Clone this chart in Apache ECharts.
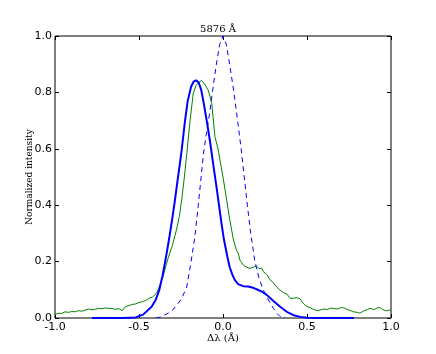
<!DOCTYPE html>
<html>
<head>
<meta charset="UTF-8">
<title>5876</title>
<script src="https://cdn.jsdelivr.net/npm/echarts@6/dist/echarts.min.js"></script>
</head>
<body style="margin:0;background:#fff;">
<div id="main" style="width:436px;height:354px;"></div>
<script type="text/javascript">
// blue solid profile
var blueX = [-0.78, -0.60, -0.52, -0.476, -0.425, -0.40, -0.379, -0.36, -0.339, -0.321, -0.30, -0.286, -0.27, -0.256, -0.246, -0.226, -0.21, -0.19, -0.175, -0.16, -0.145, -0.13, -0.117, -0.097, -0.077, -0.058, -0.04, -0.028, -0.01, 0.005, 0.026, 0.04, 0.055, 0.07, 0.09, 0.12, 0.15, 0.18, 0.20, 0.23, 0.26, 0.30, 0.34, 0.38, 0.42, 0.46, 0.50, 0.55, 0.78];
var blueY = [0, 0, 0.002, 0.012, 0.04, 0.065, 0.10, 0.15, 0.217, 0.28, 0.36, 0.418, 0.49, 0.55, 0.596, 0.70, 0.77, 0.82, 0.838, 0.843, 0.835, 0.81, 0.77, 0.70, 0.625, 0.545, 0.47, 0.418, 0.34, 0.28, 0.217, 0.18, 0.155, 0.135, 0.12, 0.113, 0.112, 0.107, 0.102, 0.094, 0.082, 0.06, 0.04, 0.022, 0.01, 0.004, 0.001, 0, 0];

// blue dashed profile
var dashX = [-0.40, -0.375, -0.335, -0.30, -0.276, -0.245, -0.216, -0.19, -0.167, -0.147, -0.117, -0.10, -0.081, -0.061, -0.042, -0.02, 0, 0.02, 0.042, 0.065, 0.087, 0.108, 0.145, 0.165, 0.19, 0.215, 0.24, 0.26, 0.30, 0.32, 0.34, 0.37];
var dashY = [0, 0.003, 0.014, 0.028, 0.045, 0.07, 0.11, 0.20, 0.29, 0.40, 0.58, 0.65, 0.72, 0.81, 0.89, 0.97, 1.0, 0.97, 0.89, 0.80, 0.70, 0.60, 0.40, 0.30, 0.20, 0.14, 0.10, 0.075, 0.034, 0.017, 0.005, 0];

// green observed profile
var greenX = [-1.00, -0.98, -0.96, -0.94, -0.92, -0.90, -0.88, -0.86, -0.84, -0.82, -0.80, -0.78, -0.76, -0.74, -0.72, -0.70, -0.68, -0.66, -0.64, -0.62, -0.60, -0.59, -0.58, -0.56, -0.54, -0.52, -0.50, -0.48, -0.46, -0.44, -0.42, -0.41, -0.395, -0.375, -0.355, -0.34, -0.325, -0.30, -0.276, -0.26, -0.246, -0.23, -0.216, -0.196, -0.177, -0.16, -0.14, -0.127, -0.11, -0.088, -0.075, -0.067, -0.048, -0.028, -0.018, 0.0, 0.022, 0.04, 0.061, 0.08, 0.091, 0.101, 0.121, 0.14, 0.161, 0.18, 0.20, 0.215, 0.23, 0.24, 0.26, 0.28, 0.30, 0.32, 0.339, 0.36, 0.38, 0.40, 0.42, 0.44, 0.458, 0.48, 0.50, 0.518, 0.54, 0.56, 0.577, 0.60, 0.62, 0.64, 0.657, 0.68, 0.70, 0.716, 0.74, 0.76, 0.776, 0.80, 0.815, 0.84, 0.86, 0.875, 0.90, 0.92, 0.934, 0.95, 0.974, 0.99, 1.0];
var greenY = [0.012, 0.017, 0.016, 0.022, 0.02, 0.023, 0.022, 0.026, 0.024, 0.028, 0.032, 0.029, 0.031, 0.034, 0.033, 0.036, 0.034, 0.034, 0.031, 0.033, 0.026, 0.03, 0.041, 0.044, 0.048, 0.05, 0.055, 0.058, 0.062, 0.07, 0.074, 0.08, 0.088, 0.117, 0.15, 0.185, 0.215, 0.26, 0.315, 0.36, 0.418, 0.50, 0.58, 0.70, 0.797, 0.825, 0.838, 0.842, 0.83, 0.808, 0.78, 0.761, 0.643, 0.596, 0.56, 0.50, 0.418, 0.35, 0.28, 0.24, 0.229, 0.205, 0.188, 0.18, 0.176, 0.18, 0.184, 0.175, 0.177, 0.164, 0.155, 0.135, 0.125, 0.11, 0.099, 0.09, 0.085, 0.07, 0.07, 0.072, 0.068, 0.05, 0.04, 0.037, 0.03, 0.026, 0.028, 0.032, 0.03, 0.035, 0.034, 0.032, 0.036, 0.037, 0.03, 0.026, 0.022, 0.02, 0.017, 0.026, 0.03, 0.034, 0.03, 0.036, 0.037, 0.03, 0.025, 0.028, 0.027];

var xTicks = [-1.0, -0.5, 0.0, 0.5, 1.0];
var yTicks = [0.0, 0.2, 0.4, 0.6, 0.8, 1.0];

function pairs(xs, ys) {
    var out = [];
    for (var i = 0; i < xs.length; i++) out.push([xs[i], ys[i]]);
    return out;
}

var myChart = echarts.init(document.getElementById('main'));

var tickFont = { color: '#000', fontFamily: 'DejaVu Sans', fontSize: 11 };
var serif = 'DejaVu Serif';

function xAx(pos, labels) {
    return {
        type: 'value', position: pos,
        min: xTicks[0], max: xTicks[xTicks.length - 1], interval: 0.5,
        axisLine: { show: false, onZero: false },
        axisTick: { show: true, inside: true, length: 4, lineStyle: { color: '#000' } },
        splitLine: { show: false },
        axisLabel: Object.assign({ show: labels, margin: 4, formatter: function (v) { return v.toFixed(1); } }, tickFont)
    };
}
function yAx(pos, labels) {
    return {
        type: 'value', position: pos,
        min: yTicks[0], max: yTicks[yTicks.length - 1], interval: 0.2,
        axisLine: { show: false, onZero: false },
        axisTick: { show: true, inside: true, length: 4, lineStyle: { color: '#000' } },
        splitLine: { show: false },
        axisLabel: Object.assign({ show: labels, margin: 3, formatter: function (v) { return v.toFixed(1); } }, tickFont)
    };
}

var xb = xAx('bottom', true);
xb.name = 'Δλ (Å)';
xb.nameLocation = 'middle';
xb.nameGap = 15;
xb.nameMoveOverlap = false;
xb.nameTextStyle = { fontFamily: serif, fontSize: 10, color: '#000' };
var yl = yAx('left', true);
yl.name = 'Normalized intensity';
yl.nameLocation = 'middle';
yl.nameGap = 21;
yl.nameMoveOverlap = false;
yl.nameTextStyle = { fontFamily: serif, fontSize: 9, color: '#000' };

option = {
    animation: false,
    title: {
        text: '5876 Å', left: 'center', top: 19,
        textStyle: { fontFamily: serif, fontSize: 10, fontWeight: 'normal', color: '#000' }
    },
    grid: { left: 55, right: 45, top: 36, bottom: 36, show: true, borderColor: '#000', borderWidth: 1, backgroundColor: 'transparent' },
    xAxis: [xb, xAx('top', false)],
    yAxis: [yl, yAx('right', false)],
    series: [{
        name: 'green', type: 'line', showSymbol: false, data: pairs(greenX, greenY),
        lineStyle: { color: '#008000', width: 1 }, itemStyle: { color: '#008000' }
    }, {
        name: 'dashed', type: 'line', showSymbol: false, data: pairs(dashX, dashY),
        lineStyle: { color: '#0000ff', width: 1, type: [5, 4] }, itemStyle: { color: '#0000ff' }
    }, {
        name: 'solid', type: 'line', showSymbol: false, data: pairs(blueX, blueY),
        lineStyle: { color: '#0000ff', width: 2 }, itemStyle: { color: '#0000ff' }
    }]
};
myChart.setOption(option);
</script>
</body>
</html>
